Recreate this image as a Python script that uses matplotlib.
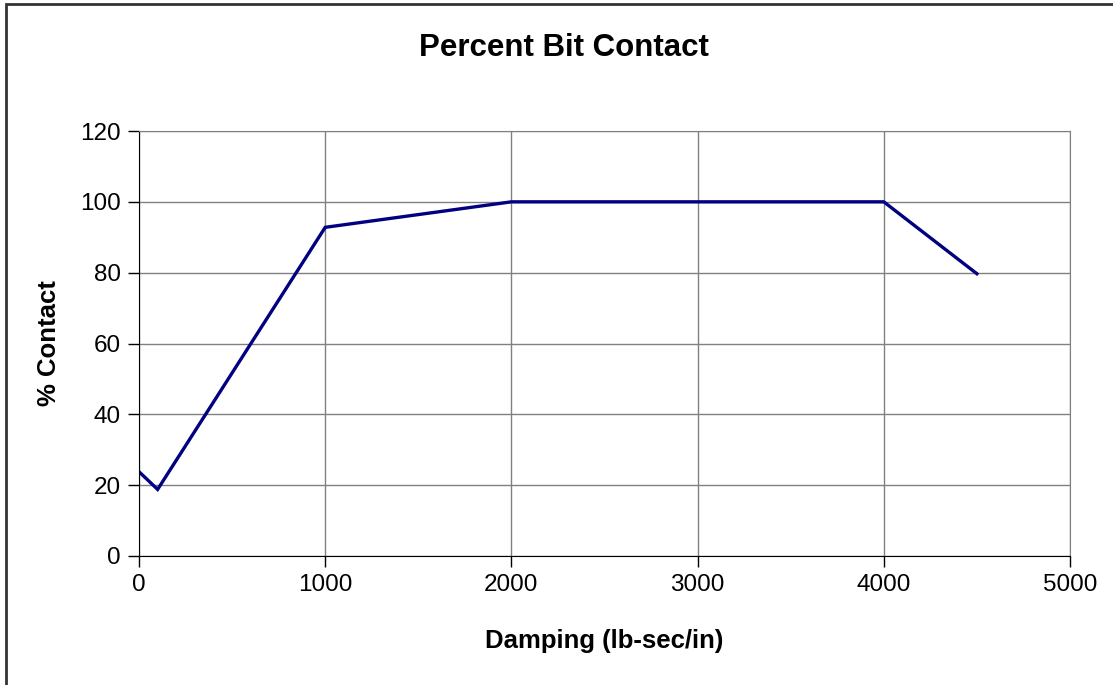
import matplotlib.pyplot as plt
from matplotlib.patches import Rectangle

plt.rcParams['font.family'] = ['Liberation Sans', 'DejaVu Sans']

amortecimento = [0, 100, 1000, 2000, 3000, 4000, 4500]
contato = [23.8, 18.8, 92.8, 100, 100, 100, 79.7]
ticks_x = [0, 1000, 2000, 3000, 4000, 5000]
ticks_y = [0, 20, 40, 60, 80, 100, 120]

fig = plt.figure(figsize=(11.13, 6.85), dpi=100)
ax = fig.add_axes([139 / 1113, 1 - 556 / 685, (1070 - 139) / 1113, (556 - 131) / 685])

ax.plot(amortecimento, contato, color='#000080', linewidth=2.4, solid_joinstyle='miter')

ax.set_xlim(0, 5000)
ax.set_ylim(0, 120)
ax.set_xticks(ticks_x)
ax.set_yticks(ticks_y)
ax.grid(True, color='#808080', linewidth=1)
ax.set_axisbelow(True)

for lado in ['top', 'right']:
    ax.spines[lado].set_color('#808080')
for lado in ['left', 'bottom']:
    ax.spines[lado].set_color('black')
ax.tick_params(direction='out', length=8, width=1, color='black', labelsize=17.5, pad=5)

ax.set_xlabel('Damping (lb-sec/in)', fontsize=18.5, fontweight='bold', labelpad=24)
ax.set_ylabel('% Contact', fontsize=18.5, fontweight='bold', labelpad=14)
fig.text(564 / 1113, 1 - 48 / 685, 'Percent Bit Contact', fontsize=22.5, fontweight='bold',
         ha='center', va='center')

# moldura externa do gráfico
fig.patches.append(Rectangle((6 / 1113, -0.05), 1.1, 1 - 4 / 685 + 0.05, transform=fig.transFigure,
                             fill=False, edgecolor='#333333', linewidth=2))

fig.savefig('out.png', dpi=100)
